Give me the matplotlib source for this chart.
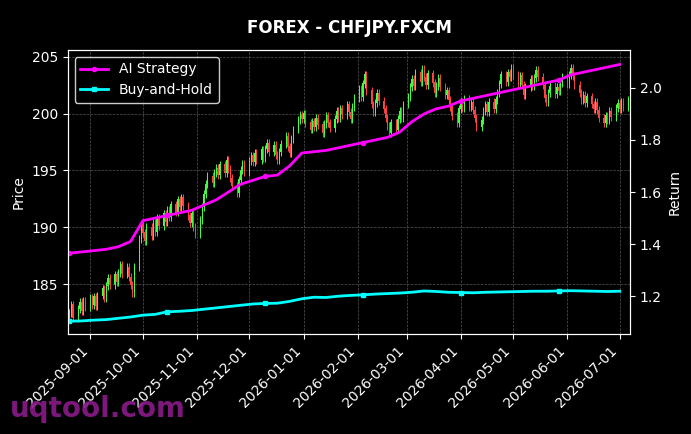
import matplotlib
matplotlib.use("Agg")
import matplotlib.pyplot as plt
import matplotlib.dates as mdates
import numpy as np
import pandas as pd

closes = [
182.5,183.2,182.0,182.8,183.4, 182.6,183.5,183.0,183.8,183.2,
183.9,183.1,184.0,184.6,183.8, 184.8,185.5,184.9,185.8,185.2,
186.0,186.7,185.9,186.5,185.6, 184.9,184.2,186.5,189.0,190.2,
189.5,188.8,190.0,189.2,190.4, 189.6,190.8,190.1,191.2,190.5,
191.5,190.9,192.0,191.3,192.4, 191.8,192.6,191.9,191.0,190.4,
191.2,190.0,189.4,190.6,191.8, 192.9,193.8,194.5,193.9,194.8,
195.2,194.6,195.5,194.8,195.9, 195.1,194.3,193.6,193.0,194.2,
195.0,195.6,194.9,195.8,196.3, 195.7,196.5,195.9,196.8,196.1,
196.9,197.4,196.6,197.2,196.4, 195.9,196.6,197.3,198.0,197.1,
196.5,197.8,198.6,199.4,199.9, 199.5,200.0,199.2,198.6,199.3,
198.8,199.6,199.0,198.3,199.1, 199.8,199.2,198.7,199.5,200.2,
199.6,200.4,199.9,200.8,200.1, 199.5,200.6,201.4,202.2,201.5,
202.6,203.4,202.0,200.8,200.1, 200.9,201.8,201.1,200.4,199.6,
198.9,198.3,199.2,198.6,199.5, 200.2,199.6,200.8,201.5,202.3,
203.0,202.4,203.6,202.8,203.9, 203.2,202.5,203.5,202.7,201.8,
202.4,203.1,202.3,201.6,202.0, 201.2,200.6,199.8,199.2,200.4,
201.0,200.5,201.3,200.6,201.0, 200.3,199.6,198.8,199.4,200.2,
200.8,200.1,201.0,200.4,201.2, 201.8,202.6,203.4,202.8,203.6,
203.2,204.0,203.4,202.6,203.3, 202.5,201.6,202.3,203.0,202.4,
203.1,203.8,203.2,202.5,201.4, 201.0,201.8,202.4,201.7,202.3,
202.0,202.7,203.2,202.6,203.4, 204.0,203.3,202.5,201.8,201.2,
201.6,200.9,201.5,200.8,200.4, 201.0,200.3,199.6,199.2,199.8,
199.4,200.2,199.7,200.5,200.9, 200.4,201.0,200.6,201.2,200.8,
]
strategy = [1.365,1.37,1.375,1.38,1.39,1.41,1.49,1.50,1.51,1.52,1.53,1.55,1.57,1.60,1.63,1.645,
1.66,1.665,1.70,1.75,1.755,1.76,1.77,1.78,1.79,1.80,1.81,1.83,1.87,1.90,1.92,1.93,1.95,1.96,
1.97,1.98,1.99,2.00,2.01,2.02,2.03,2.05,2.06,2.07,2.08,2.09]
buyhold = [1.104,1.105,1.108,1.11,1.115,1.12,1.127,1.13,1.14,1.142,1.145,1.15,1.155,1.16,1.165,
1.17,1.172,1.173,1.18,1.19,1.196,1.195,1.20,1.203,1.205,1.208,1.21,1.212,1.215,1.22,1.218,1.215,
1.214,1.213,1.215,1.216,1.217,1.218,1.219,1.219,1.22,1.221,1.22,1.219,1.218,1.219]

dates = pd.bdate_range("2025-08-20", periods=len(closes))
wdates = pd.date_range("2025-08-20", periods=len(strategy), freq="7D")
closes = np.array(closes)
opens = np.concatenate([[closes[0] - 0.4], closes[:-1]])
highs = np.maximum(opens, closes) + 0.35
lows = np.minimum(opens, closes) - 0.35

fig = plt.figure(figsize=(6.91, 4.34), dpi=100, facecolor="black")
ax = fig.add_axes([0.098, 0.23, 0.814, 0.655], facecolor="black")
x = mdates.date2num(dates)
up = closes >= opens
cols = np.where(up, "#44ff44", "#ff4444")
ax.vlines(x, lows, highs, colors=cols, linewidth=0.7)
ax.bar(x, np.abs(closes - opens) + 0.05, bottom=np.minimum(opens, closes), width=0.6, color=cols)
ax.set_ylim(180.6, 205.6)
ax.set_xlim(mdates.date2num(pd.Timestamp("2025-08-19")), mdates.date2num(pd.Timestamp("2026-07-07")))
ax.set_ylabel("Price", color="white")
ax.grid(True, color="#555555", linestyle="--", linewidth=0.5)
ax.xaxis.set_major_locator(mdates.MonthLocator())
ax.xaxis.set_major_formatter(mdates.DateFormatter("%Y-%m-%d"))
plt.setp(ax.get_xticklabels(), rotation=45, ha="right")

ax2 = ax.twinx()
l1, = ax2.plot(wdates, strategy, color="#ff00ff", linewidth=2, marker="o", markersize=3, markevery=8, label="AI Strategy")
l2, = ax2.plot(wdates, buyhold, color="#00ffff", linewidth=2, marker="s", markersize=3, markevery=8, label="Buy-and-Hold")
ax2.set_ylim(1.054, 2.146)
ax2.set_ylabel("Return", color="white")
for a in (ax, ax2):
    a.tick_params(colors="white")
    for s in a.spines.values():
        s.set_color("white")
leg = ax2.legend(handles=[l1, l2], loc="upper left", facecolor="black", edgecolor="white", labelcolor="white")
ax.set_title("FOREX - CHFJPY.FXCM", color="white", fontweight="bold", pad=12)
fig.text(0.014, 0.04, "uqtool.com", color="#8b1a8b", fontsize=20, fontweight="bold", alpha=0.9)
fig.savefig("out.png", dpi=100, facecolor="black")
